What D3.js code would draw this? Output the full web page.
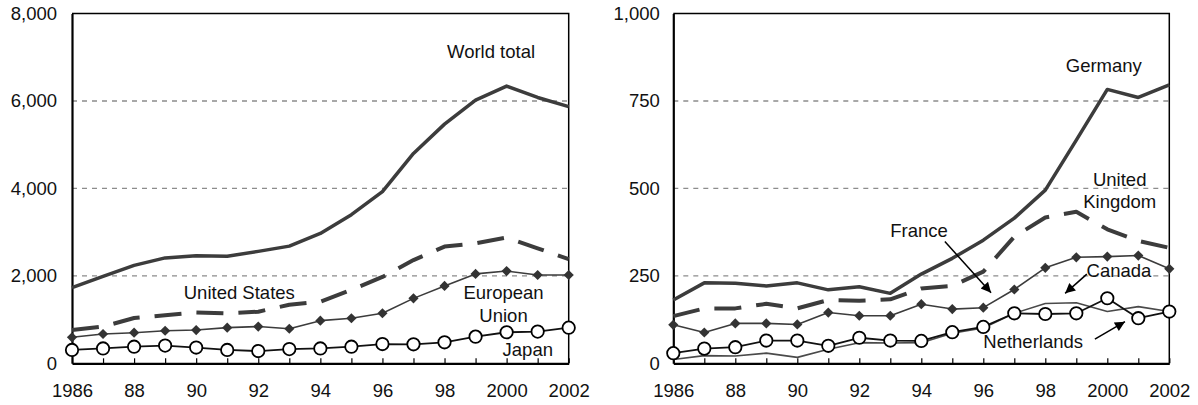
<!DOCTYPE html>
<html>
<head>
<meta charset="utf-8">
<script src="https://cdn.jsdelivr.net/npm/d3@7"></script>
<style>
    body { margin: 0; background: #fff; }
    text { font-family: "Liberation Sans", Arial, sans-serif; font-size: 18.5px; fill: #111; }
</style>
</head>
<body>
<div id="chart"></div>
<script>
// Data
var years = [1986, 1987, 1988, 1989, 1990, 1991, 1992, 1993, 1994, 1995, 1996, 1997, 1998, 1999, 2000, 2001, 2002];
var xTickLabels = ["1986", "", "88", "", "90", "", "92", "", "94", "", "96", "", "98", "", "2000", "", "2002"];

// left panel
var worldTotal = [1730, 1990, 2240, 2410, 2460, 2450, 2560, 2680, 2970, 3400, 3925, 4800, 5470, 6020, 6340, 6080, 5870];
var unitedStates = [760, 840, 1035, 1100, 1160, 1140, 1180, 1340, 1410, 1680, 1975, 2360, 2670, 2745, 2875, 2630, 2380];
var europeanUnion = [595, 670, 700, 745, 760, 815, 840, 790, 975, 1030, 1145, 1485, 1770, 2045, 2110, 2020, 2020];
var japan = [305, 340, 380, 405, 360, 305, 280, 325, 340, 380, 440, 435, 480, 610, 710, 725, 815];
var leftTicks = [0, 2000, 4000, 6000, 8000];

// right panel
var germany = [181, 230, 229, 221, 230, 210, 219, 200, 255, 300, 352, 415, 495, 638, 783, 760, 796];
var unitedKingdom = [135, 157, 157, 170, 157, 181, 179, 183, 214, 221, 262, 362, 417, 433, 383, 350, 330];
var france = [110, 88, 114, 114, 111, 145, 136, 136, 169, 155, 159, 211, 273, 303, 305, 308, 270];
var netherlands = [29, 42, 46, 65, 65, 50, 73, 65, 64, 89, 104, 143, 141, 143, 186, 129, 148];
var canada = [11, 22, 21, 29, 17, 40, 59, 58, 59, 86, 101, 143, 171, 173, 148, 162, 148];
var rightTicks = [0, 250, 500, 750, 1000];

var svgWidth = 1198;
var svgHeight = 405;

var svg = d3.select("#chart")
    .append("svg")
    .attr("width", svgWidth)
    .attr("height", svgHeight);

// arrowhead
svg.append("defs").append("marker")
    .attr("id", "arrow")
    .attr("viewBox", "0 0 10 10")
    .attr("refX", 10)
    .attr("refY", 5)
    .attr("markerWidth", 12)
    .attr("markerHeight", 10)
    .attr("markerUnits", "userSpaceOnUse")
    .attr("orient", "auto")
    .append("path")
    .attr("d", "M0,0L10,5L0,10z")
    .attr("fill", "#000");

var plotTop = 13.5, plotBottom = 363.3;

function drawPanel(opts) {
    var x = d3.scaleLinear().domain([1986, 2002]).range([opts.left, opts.right]);
    var y = d3.scaleLinear().domain([0, opts.max]).range([plotBottom, plotTop]);
    var g = svg.append("g");

    // gridlines
    g.selectAll(".grid")
        .data(opts.ticks.slice(1, -1))
        .enter()
        .append("line")
        .attr("x1", opts.left)
        .attr("x2", opts.right)
        .attr("y1", d => y(d))
        .attr("y2", d => y(d))
        .attr("stroke", "#8c8c8c")
        .attr("stroke-width", 1.4)
        .attr("stroke-dasharray", "5,5");

    // frame (top + right)
    g.append("path")
        .attr("d", `M${opts.left},${plotTop}H${opts.right}V${plotBottom}`)
        .attr("fill", "none")
        .attr("stroke", "#000")
        .attr("stroke-width", 1.5);

    // axes
    var xAxis = d3.axisBottom(x)
        .tickValues(years)
        .tickSizeInner(-5)
        .tickSizeOuter(0)
        .tickPadding(20.6)
        .tickFormat((d, i) => xTickLabels[i]);
    var xg = g.append("g")
        .attr("transform", `translate(0,${plotBottom})`)
        .call(xAxis);
    xg.select(".domain").attr("stroke", "#000").attr("stroke-width", 2.2);
    xg.selectAll(".tick line").attr("stroke", "#000").attr("stroke-width", 1.2);

    var yAxis = d3.axisLeft(y)
        .tickValues(opts.ticks)
        .tickSize(0)
        .tickPadding(opts.pad)
        .tickFormat(d3.format(","));
    var yg = g.append("g")
        .attr("transform", `translate(${opts.left},0)`)
        .call(yAxis);
    yg.select(".domain").attr("stroke", "#000").attr("stroke-width", 2.2);

    g.selectAll(".tick text")
        .attr("font-family", null)
        .attr("font-size", null)
        .attr("fill", "#111");

    var line = d3.line()
        .x((d, i) => x(years[i]))
        .y(d => y(d));

    // series
    opts.series.forEach(function (s) {
        g.append("path")
            .datum(s.values)
            .attr("d", line)
            .attr("fill", "none")
            .attr("stroke", s.color)
            .attr("stroke-width", s.width)
            .attr("stroke-dasharray", s.dash || null)
            .attr("stroke-linejoin", "round");

        if (s.marker === "diamond") {
            g.selectAll(null)
                .data(s.values)
                .enter()
                .append("path")
                .attr("d", d3.symbol(d3.symbolSquare, 52))
                .attr("transform", (d, i) => `translate(${x(years[i])},${y(d)}) rotate(45)`)
                .attr("fill", "#333");
        }
        if (s.marker === "circle") {
            g.selectAll(null)
                .data(s.values)
                .enter()
                .append("circle")
                .attr("cx", (d, i) => x(years[i]))
                .attr("cy", d => y(d))
                .attr("r", 6.2)
                .attr("fill", "#fff")
                .attr("stroke", "#000")
                .attr("stroke-width", 1.8);
        }
    });

    // labels
    opts.labels.forEach(function (l) {
        g.append("text")
            .attr("x", x(l.year))
            .attr("y", y(l.value))
            .attr("text-anchor", l.anchor || "start")
            .text(l.text);
    });

    // arrows
    (opts.arrows || []).forEach(function (a) {
        g.append("line")
            .attr("x1", x(a.from[0]))
            .attr("y1", y(a.from[1]))
            .attr("x2", x(a.to[0]))
            .attr("y2", y(a.to[1]))
            .attr("stroke", "#000")
            .attr("stroke-width", 1.5)
            .attr("marker-end", "url(#arrow)");
    });
}

drawPanel({
    left: 72, right: 568.7, max: 8000, ticks: leftTicks, pad: 15,
    series: [
        { values: worldTotal, color: "#3c3c3c", width: 3.5 },
        { values: unitedStates, color: "#3c3c3c", width: 4, dash: "27,15" },
        { values: europeanUnion, color: "#3c3c3c", width: 1.6, marker: "diamond" },
        { values: japan, color: "#111", width: 1.8, marker: "circle" }
    ],
    labels: [
        { text: "World total", year: 1998.08, value: 6983 },
        { text: "United States", year: 1989.6, value: 1464 },
        { text: "European", year: 1999.9, value: 1471, anchor: "middle" },
        { text: "Union", year: 1999.9, value: 951, anchor: "middle" },
        { text: "Japan", year: 1999.87, value: 167 }
    ]
});

drawPanel({
    left: 673.3, right: 1169.3, max: 1000, ticks: rightTicks, pad: 13.5,
    series: [
        { values: germany, color: "#3c3c3c", width: 3.5 },
        { values: unitedKingdom, color: "#3c3c3c", width: 4, dash: "27,15" },
        { values: france, color: "#3c3c3c", width: 1.6, marker: "diamond" },
        { values: canada, color: "#4a4a4a", width: 1.6 },
        { values: netherlands, color: "#111", width: 1.8, marker: "circle" }
    ],
    labels: [
        { text: "Germany", year: 1998.66, value: 834 },
        { text: "United", year: 2000.4, value: 507, anchor: "middle" },
        { text: "Kingdom", year: 2000.4, value: 444, anchor: "middle" },
        { text: "France", year: 1993.0, value: 360 },
        { text: "Canada", year: 1999.33, value: 248 },
        { text: "Netherlands", year: 1996.0, value: 43 }
    ],
    arrows: [
        { from: [1994.76, 348], to: [1996.25, 202] },
        { from: [1999.34, 255], to: [1998.64, 200] },
        { from: [1999.6, 69], to: [2000.57, 119] }
    ]
});
</script>
</body>
</html>
